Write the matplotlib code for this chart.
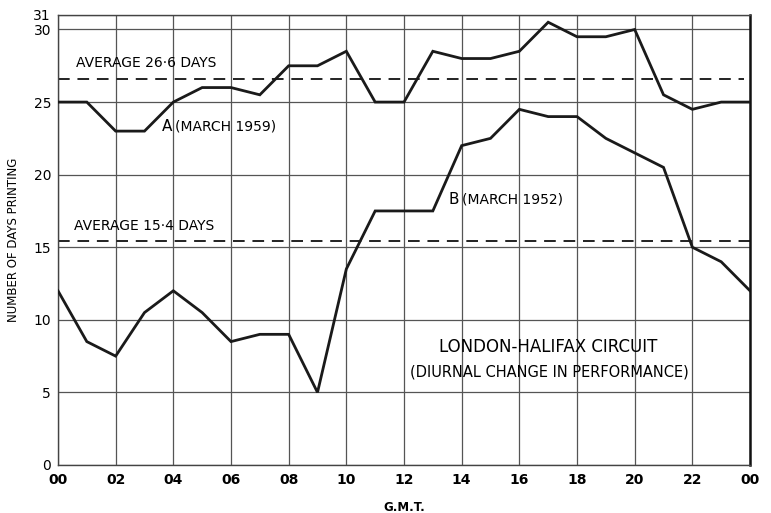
import matplotlib
matplotlib.use("Agg")
import matplotlib.pyplot as plt
import numpy as np

# hours 00 .. 24 (G.M.T.)
hours = list(range(25))

# A (March 1959)
days_1959 = [25, 25, 23, 23, 25, 26, 26, 25.5, 27.5, 27.5, 28.5, 25, 25,
             28.5, 28, 28, 28.5, 30.5, 29.5, 29.5, 30, 25.5, 24.5, 25, 25]

# B (March 1952)
days_1952 = [12, 8.5, 7.5, 10.5, 12, 10.5, 8.5, 9, 9, 5, 13.5, 17.5, 17.5,
             17.5, 22, 22.5, 24.5, 24, 24, 22.5, 21.5, 20.5, 15, 14, 12]

avg_1959 = 26.6
avg_1952 = 15.4

xtick_pos = list(range(0, 25, 2))
xtick_labels = ["00", "02", "04", "06", "08", "10", "12", "14", "16", "18", "20", "22", "00"]
ytick_pos = [0, 5, 10, 15, 20, 25, 30, 31]

plt.rcParams['font.family'] = ['DejaVu Sans']

fig = plt.figure(figsize=(7.71, 5.13), dpi=100)
ax = fig.add_axes([0.0752, 0.0936, 0.8976, 0.8772])

# grid
for x in xtick_pos:
    ax.axvline(x, color='#555555', lw=0.9, zorder=1)
for y in ytick_pos:
    ax.axhline(y, color='#555555', lw=0.9, zorder=1)

# average lines
ax.plot([0, 23.8], [avg_1959, avg_1959], color='#222222', lw=1.4, dashes=(6, 4), zorder=2)
ax.plot([0, 24], [avg_1952, avg_1952], color='#222222', lw=1.4, dashes=(6, 4), zorder=2)

# data
ax.plot(hours, days_1959, color='#1a1a1a', lw=2.0, zorder=3, solid_joinstyle='miter')
ax.plot(hours, days_1952, color='#1a1a1a', lw=2.0, zorder=3, solid_joinstyle='miter')

ax.set_xlim(0, 24)
ax.set_ylim(0, 31)
ax.set_xticks(xtick_pos)
ax.set_xticklabels(xtick_labels, fontsize=10, fontweight='bold')
ax.set_yticks(ytick_pos)
ax.set_yticklabels([str(v) for v in ytick_pos], fontsize=10)
ax.tick_params(length=0)
ax.tick_params(axis='x', pad=6)
ax.tick_params(axis='y', pad=5)

for s in ['left', 'bottom', 'top']:
    ax.spines[s].set_color('#444444')
    ax.spines[s].set_linewidth(1.0)
ax.spines['right'].set_color('#111111')
ax.spines['right'].set_linewidth(1.8)

ax.set_ylabel("NUMBER OF DAYS PRINTING", fontsize=8.5, labelpad=10)
ax.set_xlabel("G.M.T.", fontsize=8.5, fontweight='bold', labelpad=10)

# annotations
ax.text(0.62, 27.2, "AVERAGE 26·6 DAYS", fontsize=10, ha='left', va='bottom')
ax.text(0.55, 15.95, "AVERAGE 15·4 DAYS", fontsize=10, ha='left', va='bottom')
ax.text(3.6, 23.3, "A", fontsize=11, ha='left', va='center')
ax.text(4.05, 23.3, "(MARCH 1959)", fontsize=10, ha='left', va='center')
ax.text(13.55, 18.3, "B", fontsize=11, ha='left', va='center')
ax.text(14.0, 18.3, "(MARCH 1952)", fontsize=10, ha='left', va='center')
ax.text(17.0, 8.1, "LONDON-HALIFAX CIRCUIT", fontsize=12, ha='center', va='center')
ax.text(17.05, 6.4, "(DIURNAL CHANGE IN PERFORMANCE)", fontsize=10.5, ha='center', va='center')

fig.savefig("out.png", dpi=100)
